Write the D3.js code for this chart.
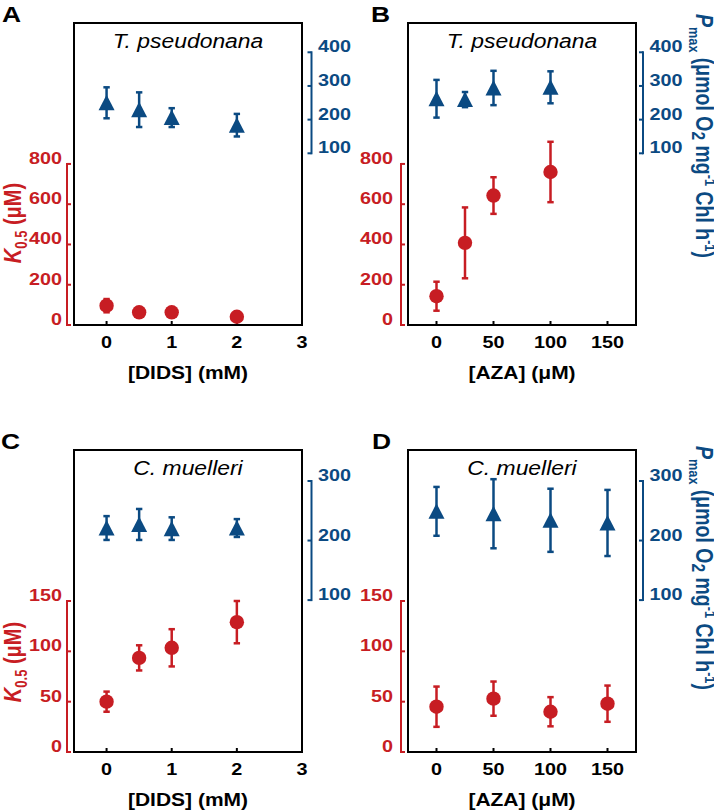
<!DOCTYPE html>
<html>
<head>
<meta charset="utf-8">
<script src="https://cdn.jsdelivr.net/npm/d3@7"></script>
<style>
  html, body { margin: 0; padding: 0; background: #fff; }
  svg { display: block; font-family: "Liberation Sans", Arial, sans-serif; }
</style>
</head>
<body>
<svg id="chart" width="714" height="812"></svg>
<script>
// ---------------- DATA ----------------
const xA = [0, 0.5, 1, 2];
const kA = [96, 63, 63, 41];
const kAerr = [33, 8, 8, 6];
const pA = [250, 229.5, 206, 183.5];
const pAerr = [46, 51.5, 28, 33.5];

const xB = [0, 25, 50, 100];
const kB = [143, 408, 643, 760];
const kBerr = [72, 176, 91, 150];
const pB = [262, 259.5, 294, 296];
const pBerr = [56, 22.5, 51, 47.5];

const xC = [0, 0.5, 1, 2];
const kC = [50, 93.5, 103.5, 129];
const kCerr = [10, 12.5, 18.5, 21];
const pC = [221, 227, 220, 221];
const pCerr = [20, 26, 19, 15];

const xD = [0, 50, 100, 150];
const kD = [45, 53, 40, 48];
const kDerr = [20, 17, 14.5, 18];
const pD = [249, 245, 234, 229.5];
const pDerr = [41, 58, 53, 55.5];

const xTicksDIDS = [0, 1, 2, 3];
const xTicksAZA = [0, 50, 100, 150];
const kTicksT = [0, 200, 400, 600, 800];
const pTicksT = [100, 200, 300, 400];
const kTicksC = [0, 50, 100, 150];
const pTicksC = [100, 200, 300];

const letters = ["A", "B", "C", "D"];
const species = ["T. pseudonana", "T. pseudonana", "C. muelleri", "C. muelleri"];
const xLabels = ["[DIDS] (mM)", "[AZA] (μM)", "[DIDS] (mM)", "[AZA] (μM)"];

// ---------------- STYLE / LAYOUT ----------------
const RED = "#c71d23";
const BLUE = "#0b4a82";
const SX = 1.2; // horizontal stretch of the original artwork

const panels = [
  { letter: letters[0], title: species[0], xlab: xLabels[0], left: 74, right: 302, top: 23, bottom: 325,
    xDom: [-0.5, 3], kDom: [0, 1500], pDom: [-410, 487], xTicks: xTicksDIDS, kTicks: kTicksT, pTicks: pTicksT,
    x: xA, k: kA, ke: kAerr, p: pA, pe: pAerr, redX: 67, blueX: 311.5, redGap: 5, showK: true, showP: false,
    letterX: 2, labelY: 223 },
  { letter: letters[1], title: species[1], xlab: xLabels[1], left: 408, right: 636, top: 23, bottom: 325,
    xDom: [-25, 175], kDom: [0, 1500], pDom: [-410, 487], xTicks: xTicksAZA, kTicks: kTicksT, pTicks: pTicksT,
    x: xB, k: kB, ke: kBerr, p: pB, pe: pBerr, redX: 401, blueX: 643, redGap: 8, showK: false, showP: true,
    letterX: 371, labelY: 136 },
  { letter: letters[2], title: species[2], xlab: xLabels[2], left: 74, right: 302, top: 450, bottom: 752,
    xDom: [-0.5, 3], kDom: [0, 300], pDom: [-155, 352], xTicks: xTicksDIDS, kTicks: kTicksC, pTicks: pTicksC,
    x: xC, k: kC, ke: kCerr, p: pC, pe: pCerr, redX: 67, blueX: 311.5, redGap: 5, showK: true, showP: false,
    letterX: 1, labelY: 662 },
  { letter: letters[3], title: species[3], xlab: xLabels[3], left: 408, right: 636, top: 450, bottom: 752,
    xDom: [-25, 175], kDom: [0, 300], pDom: [-155, 352], xTicks: xTicksAZA, kTicks: kTicksC, pTicks: pTicksC,
    x: xD, k: kD, ke: kDerr, p: pD, pe: pDerr, redX: 401, blueX: 643, redGap: 8, showK: false, showP: true,
    letterX: 372, labelY: 568 }
];

const svg = d3.select("#chart");

// text helper: parts = [{t, sub, sup, italic}]
function addText(parent, x, y, parts, o) {
  const g = parent.append("g")
    .attr("transform", `translate(${x},${y}) scale(${o.sx || 1},1)` + (o.rotate ? ` rotate(${o.rotate})` : ""));
  const t = g.append("text")
    .attr("font-size", o.size)
    .attr("font-weight", o.weight || "normal")
    .attr("font-style", o.style || "normal")
    .attr("fill", o.fill || "#000")
    .attr("text-anchor", o.anchor || "start")
    .attr("dy", o.dy || 0);
  if (typeof parts === "string") parts = [{ t: parts }];
  let shift = 0;
  parts.forEach(p => {
    const ts = t.append("tspan").text(p.t);
    let target = 0, fs = o.size;
    if (p.sub) { target = o.size * (p.small ? 0.15 : 0.28); fs = o.size * (p.small ? 0.8 : 0.65); }
    if (p.sup) { target = -o.size * 0.38; fs = o.size * 0.65; }
    ts.attr("dy", target - shift).attr("font-size", fs);
    if (p.italic) ts.attr("font-style", "italic");
    shift = target;
  });
  return t;
}

panels.forEach(P => {
  const g = svg.append("g");
  const x = d3.scaleLinear().domain(P.xDom).range([P.left, P.right]);
  const yK = d3.scaleLinear().domain(P.kDom).range([P.bottom, P.top]);
  const yP = d3.scaleLinear().domain(P.pDom).range([P.bottom, P.top]);

  // frame
  g.append("rect").attr("x", P.left).attr("y", P.top)
    .attr("width", P.right - P.left).attr("height", P.bottom - P.top)
    .attr("fill", "none").attr("stroke", "#000").attr("stroke-width", 2);

  // x ticks (inward) + labels
  P.xTicks.forEach(v => {
    g.append("line").attr("x1", x(v)).attr("x2", x(v))
      .attr("y1", P.bottom).attr("y2", P.bottom - 4)
      .attr("stroke", "#000").attr("stroke-width", 2);
    addText(g, x(v), P.bottom + 23, String(v), { size: 16.5, weight: "bold", anchor: "middle", sx: SX });
  });

  // red (K0.5) axis
  g.append("line").attr("x1", P.redX).attr("x2", P.redX)
    .attr("y1", yK(d3.min(P.kTicks)) + 1).attr("y2", yK(d3.max(P.kTicks)) - 1)
    .attr("stroke", RED).attr("stroke-width", 2);
  P.kTicks.forEach(v => {
    g.append("line").attr("x1", P.redX).attr("x2", P.redX + 4)
      .attr("y1", yK(v)).attr("y2", yK(v)).attr("stroke", RED).attr("stroke-width", 2);
    addText(g, P.redX - P.redGap, yK(v), String(v), { size: 16.5, weight: "bold", anchor: "end", fill: RED, sx: SX, dy: "0.36em" });
  });

  // blue (Pmax) axis
  g.append("line").attr("x1", P.blueX).attr("x2", P.blueX)
    .attr("y1", yP(d3.min(P.pTicks)) + 1).attr("y2", yP(d3.max(P.pTicks)) - 1)
    .attr("stroke", BLUE).attr("stroke-width", 2);
  P.pTicks.forEach(v => {
    g.append("line").attr("x1", P.blueX).attr("x2", P.blueX - 4)
      .attr("y1", yP(v)).attr("y2", yP(v)).attr("stroke", BLUE).attr("stroke-width", 2);
    addText(g, P.blueX + 6.5, yP(v), String(v), { size: 16.5, weight: "bold", anchor: "start", fill: BLUE, sx: SX, dy: "0.36em" });
  });

  // title
  addText(g, (P.left + P.right) / 2, P.top + 24.5, P.title, { size: 21, style: "italic", anchor: "middle", sx: 1.09 });

  // panel letter
  addText(g, P.letterX, P.top - 1, P.letter, { size: 22, weight: "bold", anchor: "start", sx: SX });

  // x axis label
  addText(g, (P.left + P.right) / 2, P.bottom + 54, P.xlab, { size: 17.5, weight: "bold", anchor: "middle", sx: SX });

  // K0.5 axis label
  if (P.showK) {
    addText(g, 20.5, P.labelY, [{ t: "K", italic: true }, { t: "0.5", sub: true }, { t: " (μM)" }],
      { size: 20, weight: "bold", anchor: "middle", fill: RED, sx: SX, rotate: -90 });
  }
  // Pmax axis label
  if (P.showP) {
    addText(g, 696, P.labelY,
      [{ t: "P", italic: true }, { t: "max", sub: true }, { t: " (μmol O" }, { t: "2", sub: true, small: true },
       { t: " mg" }, { t: "-1", sup: true }, { t: " Chl h" }, { t: "-1", sup: true }, { t: ")" }],
      { size: 19.5, weight: "bold", anchor: "middle", fill: BLUE, sx: SX, rotate: 90 });
  }

  // data
  const pData = P.x.map((v, i) => ({ x: v, y: P.p[i], e: P.pe[i] }));
  const kData = P.x.map((v, i) => ({ x: v, y: P.k[i], e: P.ke[i] }));

  function errBars(data, yS, color) {
    const eg = g.append("g").attr("stroke", color).attr("stroke-width", 2.5);
    data.forEach(d => {
      eg.append("line").attr("x1", x(d.x)).attr("x2", x(d.x))
        .attr("y1", yS(d.y - d.e)).attr("y2", yS(d.y + d.e));
      [d.y - d.e, d.y + d.e].forEach(v => {
        eg.append("line").attr("x1", x(d.x) - 3.2).attr("x2", x(d.x) + 3.2)
          .attr("y1", yS(v)).attr("y2", yS(v));
      });
    });
  }
  errBars(pData, yP, BLUE);
  errBars(kData, yK, RED);

  const tri = "M0,-8L8,7.5L-8,7.5Z";
  g.append("g").selectAll("path").data(pData).join("path")
    .attr("d", tri).attr("fill", BLUE)
    .attr("transform", d => `translate(${x(d.x)},${yP(d.y)})`);
  g.append("g").selectAll("circle").data(kData).join("circle")
    .attr("cx", d => x(d.x)).attr("cy", d => yK(d.y)).attr("r", 7.2).attr("fill", RED);
});
</script>
</body>
</html>
